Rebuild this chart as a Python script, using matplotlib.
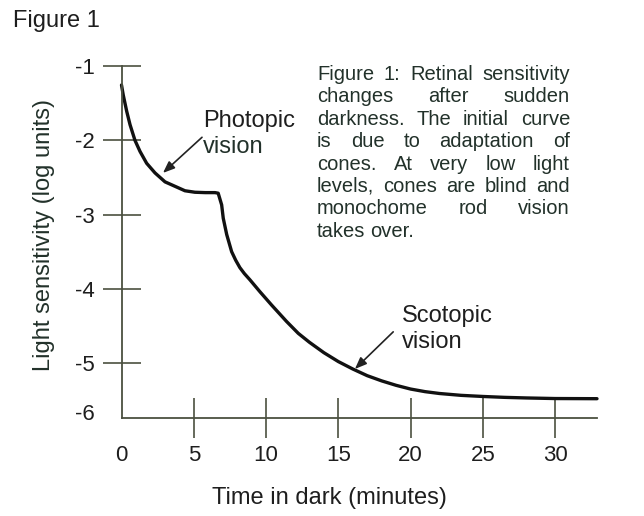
import matplotlib
matplotlib.use("Agg")
import matplotlib.pyplot as plt

plt.rcParams['font.family'] = ['Liberation Sans', 'DejaVu Sans']

# dark adaptation curve
time_min = [0.0, 0.12, 0.36, 0.59, 0.93, 1.28, 1.74, 2.32, 3.01, 3.70, 4.39,
            5.08, 5.8, 6.47, 6.69, 6.93, 7.04, 7.28, 7.62, 7.9, 8.19, 8.5,
            8.89, 9.58, 10.39, 11.42, 12.23, 13.0, 14.0, 15.0, 16.0, 17.0,
            18.0, 19.0, 20.0, 21.0, 22.0, 23.5, 25.0, 26.5, 28.0, 30.0, 32.9]
sensitivity = [-1.256, -1.39, -1.61, -1.79, -2.0, -2.15, -2.31, -2.44, -2.56,
               -2.62, -2.68, -2.70, -2.705, -2.705, -2.713, -2.87, -3.05,
               -3.27, -3.50, -3.615, -3.715, -3.795, -3.88, -4.04, -4.22,
               -4.44, -4.60, -4.72, -4.86, -4.98, -5.08, -5.17, -5.24, -5.30,
               -5.35, -5.385, -5.41, -5.435, -5.45, -5.462, -5.47, -5.478,
               -5.48]

xtick_values = [0, 5, 10, 15, 20, 25, 30]
xtick_labels = ['0', '5', '10', '15', '20', '25', '30']
ytick_values = [-1, -2, -3, -4, -5, -5.66]
ytick_labels = ['-1', '-2', '-3', '-4', '-5', '-6']

caption_lines = [
    "Figure 1: Retinal sensitivity",
    "changes after sudden",
    "darkness. The initial curve",
    "is due to adaptation of",
    "cones. At very low light",
    "levels, cones are blind and",
    "monochome rod vision",
    "takes over.",
]

axis_color = '#4b5040'
text_color = '#1e1e1e'
caption_color = '#22312a'

fig = plt.figure(figsize=(6.44, 5.16), dpi=100)
W, H = 644, 516
ax = fig.add_axes([121.5 / W, 1 - 418 / H, (597 - 121.5) / W, (418 - 66) / H])
ax.set_xlim(0, 32.9)
ax.set_ylim(-5.74, -1)

ax.plot(time_min, sensitivity, color='#111111', lw=2.4, solid_capstyle='round',
        solid_joinstyle='round', clip_on=False)

for side in ['top', 'right']:
    ax.spines[side].set_visible(False)
for side in ['left', 'bottom']:
    ax.spines[side].set_color(axis_color)
    ax.spines[side].set_linewidth(1.3)

ax.set_xticks(xtick_values)
ax.set_xticklabels(xtick_labels)
ax.set_yticks(ytick_values)
ax.set_yticklabels(ytick_labels)
ax.tick_params(axis='x', direction='inout', length=29.5, width=1.2,
               color=axis_color, labelsize=16, pad=5, labelcolor=text_color)
ax.tick_params(axis='y', direction='inout', length=27, width=1.2,
               color=axis_color, labelsize=16, pad=6, labelcolor=text_color)
# no tick marks at the corner
ax.xaxis.get_major_ticks()[0].tick1line.set_visible(False)
ax.yaxis.get_major_ticks()[-1].tick1line.set_visible(False)

fig.text(13 / W, 1 - 21 / H, "Figure 1", fontsize=17, color=text_color,
         ha='left', va='center')
fig.text(44 / W, 1 - 235 / H, "Light sensitivity (log units)", fontsize=17,
         rotation=90, ha='center', va='center', color=caption_color)
fig.text(329 / W, 1 - 498 / H, "Time in dark (minutes)", fontsize=17,
         ha='center', va='center', color=text_color)

# annotations with arrows
arrow_kw = dict(arrowstyle='-|>,head_length=0.7,head_width=0.28',
                color='#222222', lw=1.2, shrinkA=0, shrinkB=0)
ax.text(5.64, -1.82, "Photopic", fontsize=17, color=text_color, va='baseline')
ax.text(5.64, -2.17, "vision", fontsize=17, color=caption_color, va='baseline')
ax.annotate("", xy=(2.87, -2.44), xytext=(5.57, -1.96), arrowprops=arrow_kw,
            annotation_clip=False)
ax.text(19.4, -4.445, "Scotopic", fontsize=17, color=text_color, va='baseline')
ax.text(19.4, -4.795, "vision", fontsize=17, color=text_color, va='baseline')
ax.annotate("", xy=(16.15, -5.08), xytext=(18.8, -4.58), arrowprops=arrow_kw,
            annotation_clip=False)

# justified caption block
renderer = fig.canvas.get_renderer()
left_px, right_px = 317, 570
for i, line in enumerate(caption_lines):
    words = line.split()
    y = 1 - (80 + i * 22.4) / H
    items = [fig.text(0, y, w, fontsize=14.5, color=caption_color, va='baseline')
             for w in words]
    widths = [t.get_window_extent(renderer).width for t in items]
    if i == len(caption_lines) - 1 or len(words) == 1:
        gap = 4.5
    else:
        gap = (right_px - left_px - sum(widths)) / (len(words) - 1)
    x = left_px
    for t, w in zip(items, widths):
        t.set_x(x / W)
        x += w + gap

fig.savefig('out.png', dpi=100)
